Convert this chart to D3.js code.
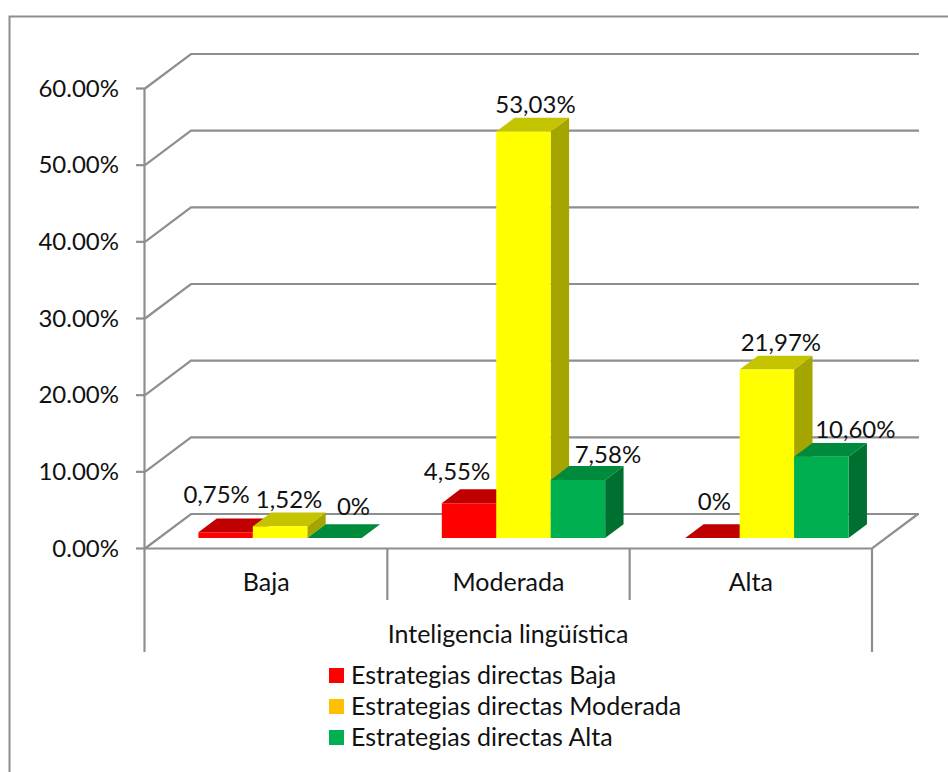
<!DOCTYPE html>
<html>
<head>
<meta charset="utf-8">
<script src="https://cdn.jsdelivr.net/npm/d3@7/dist/d3.min.js"></script>
<style>
    body { margin: 0; background: #fff; }
    text { font-family: Lato, "Open Sans", sans-serif; fill: #111; }
</style>
</head>
<body>
<script>
const categories = ["Baja", "Moderada", "Alta"];
const seriesNames = ["Estrategias directas Baja", "Estrategias directas Moderada", "Estrategias directas Alta"];
const bajaValues = [0.75, 4.55, 0];
const moderadaValues = [1.52, 53.03, 21.97];
const altaValues = [0, 7.58, 10.60];
const yTicks = [0, 10, 20, 30, 40, 50, 60];
const axisTitle = "Inteligencia lingüística";

const seriesValues = [bajaValues, moderadaValues, altaValues];

// colours per series: front, top, side, legend swatch
const fronts = ["#ff0000", "#ffff00", "#00b050"];
const tops = ["#c00000", "#c4c400", "#008a3c"];
const sides = ["#a00000", "#a5a500", "#007030"];
const swatches = ["#ff0000", "#ffc000", "#00b050"];
const gridColor = "#8e8e8e";

// hand placed data labels, dx/dy from the bar's top front centre [series][category]
const labelDx = [[-9, -12, 2], [9, 12, 14], [19, 30, 34]];
const labelDy = [[-29, -23, -28], [-18, -18, -19], [-23, -17, -19]];

const width = 948, height = 772;
const numberSize = 24, wordSize = 25;

const svg = d3.select("body").append("svg")
    .attr("width", width)
    .attr("height", height)
    .style("display", "block");

const yScale = d3.scaleLinear().domain([0, 60]).range([548.5, 88.5]);
const xScale = d3.scaleBand().domain(categories).range([145, 872]);
// the bars sit on a slightly wider step than the axis cells
const xBars = d3.scaleBand().domain(categories).range([144.4, 874.6]);
const xInner = d3.scaleBand().domain(d3.range(3)).range([0, xBars.bandwidth()]).paddingInner(0).paddingOuter(0.735);

// oblique projection for the fake 3D, depth 0 = front plane, 1 = back wall
const wallDx = 46, wallDy = -34.5;
const project = (x, v, depth) => [x + depth * wallDx, yScale(v) + depth * wallDy];
const barFront = 0.304, barBack = 0.704;

const line = d3.line();

// outer frame, open on the right and at the bottom
svg.append("path")
    .attr("d", line([[9.5, height], [9.5, 16.5], [width, 16.5]]))
    .attr("fill", "none")
    .attr("stroke", gridColor)
    .attr("stroke-width", 2);

// gridlines: slanted part on the side wall then along the back wall
const grid = svg.append("g").attr("fill", "none").attr("stroke", gridColor).attr("stroke-width", 2.2);
yTicks.forEach(t => {
    grid.append("path").attr("d", line([project(145, t, 0), project(145, t, 1), project(873, t, 1)]));
    grid.append("path").attr("d", line([[136, yScale(t)], [145, yScale(t)]]));
});

// floor edges and axes
grid.append("path").attr("d", line([project(145, 0, 0), project(872, 0, 0), project(872, 0, 1)]));
grid.append("path").attr("d", line([[144.5, yScale(60)], [144.5, 652]]));
grid.append("path").attr("d", line([[872, yScale(0)], [872, 652]]));
categories.slice(1).forEach(c => {
    grid.append("path").attr("d", line([[xScale(c), yScale(0)], [xScale(c), 600]]));
});

// bars, each series drawn after the previous one so it covers its side face
const bars = svg.append("g");
seriesValues.forEach((values, s) => {
    values.forEach((v, c) => {
        const x0 = xBars(categories[c]) + xInner(s);
        const x1 = x0 + xInner.bandwidth();
        const frontTl = project(x0, v, barFront), frontTr = project(x1, v, barFront);
        const frontBl = project(x0, 0, barFront), frontBr = project(x1, 0, barFront);
        const backTl = project(x0, v, barBack), backTr = project(x1, v, barBack);
        const backBr = project(x1, 0, barBack);
        bars.append("path").attr("d", line([frontTr, backTr, backBr, frontBr]) + "Z").attr("fill", sides[s]);
        bars.append("path").attr("d", line([frontTl, backTl, backTr, frontTr]) + "Z").attr("fill", tops[s]);
        bars.append("path").attr("d", line([frontTl, frontTr, frontBr, frontBl]) + "Z").attr("fill", fronts[s]);
    });
});

// data labels
const fmt = v => v === 0 ? "0%" : v.toFixed(2).replace(".", ",") + "%";
seriesValues.forEach((values, s) => {
    values.forEach((v, c) => {
        const x0 = xBars(categories[c]) + xInner(s);
        const p = project(x0 + xInner.bandwidth() / 2, v, barFront);
        svg.append("text")
            .attr("x", p[0] + labelDx[s][c])
            .attr("y", p[1] + labelDy[s][c])
            .attr("text-anchor", "middle")
            .attr("font-size", numberSize)
            .text(fmt(v));
    });
});

// y tick labels
svg.selectAll(".ylab").data(yTicks).enter().append("text")
    .attr("class", "ylab")
    .attr("x", 119)
    .attr("y", d => yScale(d) + 8)
    .attr("text-anchor", "end")
    .attr("font-size", numberSize)
    .text(d => d.toFixed(2) + "%");

// category labels and axis title
svg.selectAll(".xlab").data(categories).enter().append("text")
    .attr("class", "xlab")
    .attr("x", d => xScale(d) + xScale.bandwidth() / 2)
    .attr("y", 591)
    .attr("text-anchor", "middle")
    .attr("font-size", wordSize)
    .text(d => d);

svg.append("text")
    .attr("x", 508)
    .attr("y", 643)
    .attr("text-anchor", "middle")
    .attr("font-size", wordSize)
    .text(axisTitle);

// legend
seriesNames.forEach((name, i) => {
    const y = 675.5 + i * 31;
    svg.append("rect").attr("x", 329).attr("y", y - 7.5).attr("width", 15).attr("height", 15).attr("fill", swatches[i]);
    svg.append("text").attr("x", 351).attr("y", y + 8).attr("font-size", wordSize).text(name);
});
</script>
</body>
</html>
